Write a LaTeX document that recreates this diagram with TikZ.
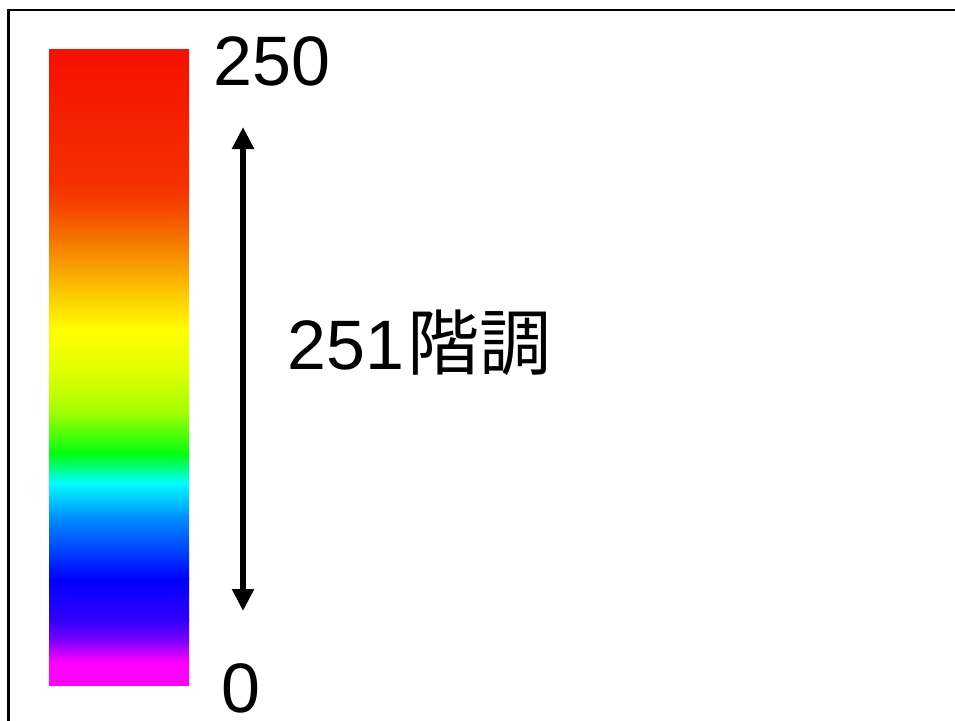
\documentclass[tikz,border=0pt]{standalone}
\usepackage{fontspec}
\setmainfont{Liberation Sans}
\newfontfamily\cjkfont{Noto Sans CJK JP}
\usetikzlibrary{arrows.meta}
\definecolor{cA}{HTML}{F51000}
\definecolor{cB}{HTML}{F53000}
\definecolor{cC}{HTML}{F54200}
\definecolor{cD}{HTML}{F58000}
\definecolor{cE}{HTML}{FBC000}
\definecolor{cF}{HTML}{FFFF00}
\definecolor{cG}{HTML}{E0FF00}
\definecolor{cH}{HTML}{A0FF00}
\definecolor{cI}{HTML}{00FF10}
\definecolor{cJ}{HTML}{00FFFF}
\definecolor{cK}{HTML}{0090FF}
\definecolor{cL}{HTML}{0000FF}
\definecolor{cM}{HTML}{3000FF}
\definecolor{cN}{HTML}{8000FF}
\definecolor{cO}{HTML}{FF00FF}
\tikzset{
  lbl/.style={inner sep=0pt, anchor=base west, font=\fontsize{70}{84}\selectfont},
  frameline/.style={line width=2.5pt, draw=black},
  bigarrow/.style={line width=6.5pt, {Triangle[length=22pt,width=21pt]}-{Triangle[length=22pt,width=21pt]}},
}
\begin{document}
\begin{tikzpicture}[x=1pt,y=-1pt]
\useasboundingbox (0,0) rectangle (955,720);
\clip (0,0) rectangle (955,720);
\fill[white] (0,0) rectangle (955,720);
\draw[frameline] (8.5,730) -- (8.5,10) -- (965,10);
% colour bar
\foreach \ya/\yb/\ca/\cb in {50/184/cA/cB,184/205/cB/cC,205/247/cC/cD,247/288/cD/cE,288/330/cE/cF,330/371/cF/cG,371/413/cG/cH,413/454/cH/cI,454/483/cI/cJ,483/517/cJ/cK,517/579/cK/cL,579/620/cL/cM,620/641/cM/cN,641/662/cN/cO,662/685/cO/cO}{
  \shade[top color=\ca, bottom color=\cb] (49,\ya-0.4) rectangle (189,\yb+0.4);
}
% labels
\node[lbl] (n250) at (213,85) {250};
\node[lbl] (n0) at (221,712) {0};
\node[lbl] (nlabel) at (287,369) {251\kern4pt{\cjkfont\fontsize{72}{84}\selectfont 階調}};
% arrow
\coordinate (atop) at (243,127);
\coordinate (abot) at (243,611);
\draw[bigarrow] (atop) -- (abot);
\end{tikzpicture}
\end{document}
